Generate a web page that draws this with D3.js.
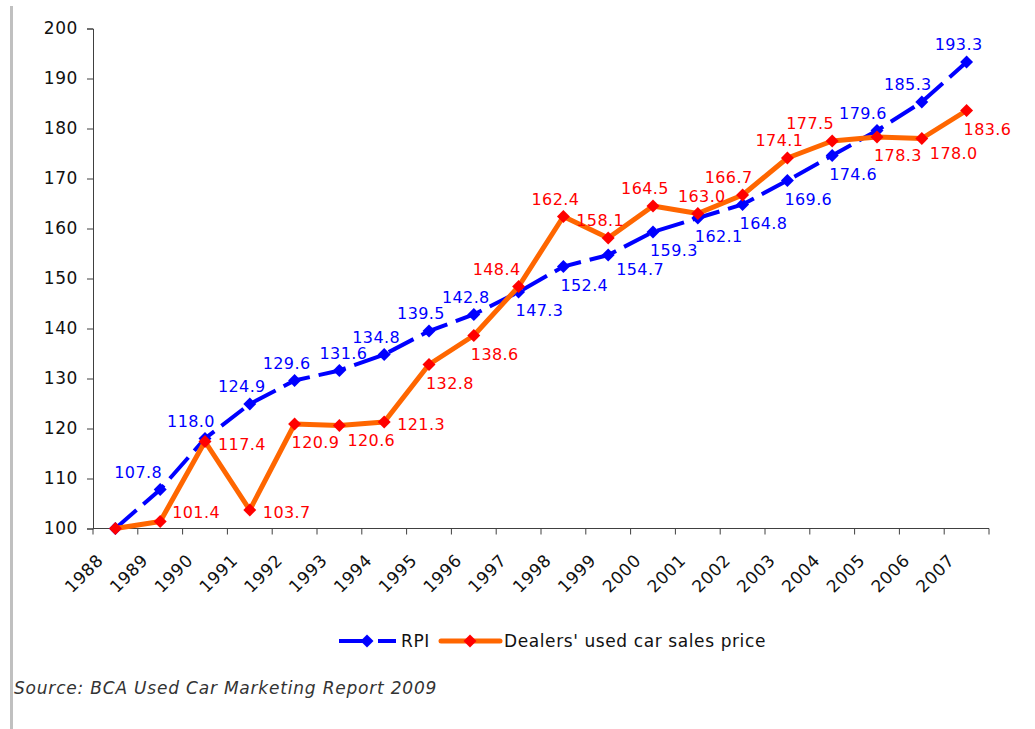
<!DOCTYPE html>
<html>
<head>
<meta charset="utf-8">
<script src="https://cdn.jsdelivr.net/npm/d3@7"></script>
<style>
  html, body { margin: 0; padding: 0; background: #fff; }
  svg { display: block; font-family: "DejaVu Sans", Verdana, sans-serif; }
</style>
</head>
<body>
<svg id="chart" width="1035" height="729"></svg>
<script>
// Years on the category axis
const years = ["1988","1989","1990","1991","1992","1993","1994","1995","1996","1997",
               "1998","1999","2000","2001","2002","2003","2004","2005","2006","2007"];
// Retail price index (1988 = 100)
const rpi = [100, 107.8, 118.0, 124.9, 129.6, 131.6, 134.8, 139.5, 142.8, 147.3,
             152.4, 154.7, 159.3, 162.1, 164.8, 169.6, 174.6, 179.6, 185.3, 193.3];
// Dealers' used car sales price index (1988 = 100)
const dealers = [100, 101.4, 117.4, 103.7, 120.9, 120.6, 121.3, 132.8, 138.6, 148.4,
                 162.4, 158.1, 164.5, 163.0, 166.7, 174.1, 177.5, 178.3, 178.0, 183.6];
const yTicks = [100, 110, 120, 130, 140, 150, 160, 170, 180, 190, 200];
const seriesNames = ["RPI", "Dealers' used car sales price"];
const sourceNote = "Source: BCA Used Car Marketing Report 2009";

const FS = 17, LS = 0.6;       // axis / legend text
const LFS = 16, LLS = 0.4;     // data label text
const svg = d3.select("#chart");

const x = d3.scaleBand().domain(years).range([93, 989]);
const y = d3.scaleLinear().domain([100, 200]).range([528.5, 28.5]);
const cx = d => x(d) + x.bandwidth() / 2;

// page border on the left
svg.append("rect").attr("x", 10).attr("y", 6).attr("width", 3).attr("height", 723).attr("fill", "#c0c0c0");

// y axis
const yAxis = svg.append("g").attr("transform", "translate(93,0)")
  .call(d3.axisLeft(y).tickValues(yTicks).tickSize(6).tickPadding(9).tickFormat(d3.format("d")));
yAxis.select(".domain").attr("stroke", "#404040");
yAxis.selectAll(".tick line").attr("stroke", "#404040");
yAxis.selectAll(".tick text").attr("font-size", FS).attr("letter-spacing", LS)
  .attr("fill", "#111").attr("font-family", "DejaVu Sans");

// x axis: ticks on band boundaries, rotated labels at band centres
const xg = svg.append("g").attr("transform", "translate(0,528.5)");
xg.append("line").attr("x1", 93).attr("x2", 989).attr("stroke", "#404040");
const bounds = years.map(d => x(d)).concat([x.range()[1]]);
xg.selectAll("line.tk").data(bounds).join("line").attr("class", "tk")
  .attr("x1", d => d).attr("x2", d => d).attr("y1", 0).attr("y2", 6).attr("stroke", "#404040");
xg.selectAll("text").data(years).join("text")
  .attr("text-anchor", "end")
  .attr("font-size", FS).attr("letter-spacing", LS).attr("fill", "#111")
  .attr("transform", d => `translate(${cx(d) - 11},${33}) rotate(-45)`)
  .text(d => d);

const line = d3.line().x((d, i) => cx(years[i])).y(d => y(d));
const marker = d3.symbol().type(d3.symbolSquare).size(84);

// RPI series
svg.append("path").datum(rpi).attr("d", line).attr("fill", "none")
  .attr("stroke", "#0000ff").attr("stroke-width", 4).attr("stroke-dasharray", "28,9");
svg.append("g").selectAll("path").data(rpi).join("path")
  .attr("d", marker)
  .attr("transform", (d, i) => `translate(${cx(years[i])},${y(d)}) rotate(45)`)
  .attr("fill", "#0000ff");

// dealers' series
svg.append("path").datum(dealers).attr("d", line).attr("fill", "none")
  .attr("stroke", "#ff6600").attr("stroke-width", 5).attr("stroke-linejoin", "round");
svg.append("g").selectAll("path").data(dealers).join("path")
  .attr("d", marker)
  .attr("transform", (d, i) => `translate(${cx(years[i])},${y(d)}) rotate(45)`)
  .attr("fill", "#ff0000");

// ---- value labels with simple collision avoidance ----
// obstacles: points sampled along both polylines
const obstacles = [];
[rpi, dealers].forEach(vals => {
  for (let i = 0; i < vals.length - 1; i++) {
    const x0 = cx(years[i]), y0 = y(vals[i]), x1 = cx(years[i + 1]), y1 = y(vals[i + 1]);
    const n = Math.ceil(Math.hypot(x1 - x0, y1 - y0) / 1.5);
    for (let k = 0; k <= n; k++) obstacles.push([x0 + (x1 - x0) * k / n, y0 + (y1 - y0) * k / n]);
  }
});
const placed = [];
const gap = 1;
const overlaps = (a, b) => a.x0 < b.x1 + gap && b.x0 < a.x1 + gap && a.y0 < b.y1 && b.y0 < a.y1;
function conflicts(box) {
  let c = 0;
  if (box.y1 > 526 || box.x1 > 1033) c += 100;
  const pad = 2;
  for (const [px, py] of obstacles)
    if (px > box.x0 - pad && px < box.x1 + pad && py > box.y0 - pad && py < box.y1 + pad) c++;
  for (const p of placed) if (overlaps(p, box)) c += 50;
  return c;
}
// candidate offsets (label centre y relative to the point)
const lowerCands = [
  { a: "start", dx: -3, dy: 18 }, { a: "start", dx: 8, dy: 14 },
  { a: "start", dx: 13, dy: 2 }, { a: "start", dx: 12, dy: -10 }];
const upperCands = [
  { a: "middle", dx: -8, dy: -18 }, { a: "middle", dx: -4, dy: -18 },
  { a: "middle", dx: 4, dy: -18 }, { a: "middle", dx: -14, dy: -18 },
  { a: "middle", dx: -22, dy: -18 }];

function labels(values, other, color) {
  const g = svg.append("g");
  values.forEach((v, i) => {
    if (v === other[i]) return;
    const px = cx(years[i]), py = y(v);
    const t = g.append("text")
      .attr("font-size", LFS).attr("letter-spacing", LLS).attr("fill", color)
      .text(v.toFixed(1));
    const w = t.node().getComputedTextLength();
    const h = 12;
    const cands = v > other[i] ? upperCands : lowerCands;
    let best = null;
    for (const c of cands) {
      const left = c.a === "middle" ? px + c.dx - w / 2 : px + c.dx;
      const box = { x0: left, x1: left + w, y0: py + c.dy - h / 2, y1: py + c.dy + h / 2 };
      const score = conflicts(box);
      if (!best || score < best.score) best = { c, box, score };
      if (score === 0) break;
    }
    placed.push(best.box);
    t.attr("x", best.box.x0).attr("y", best.box.y1);
  });
}
labels(rpi, dealers, "#0000ff");
labels(dealers, rpi, "#ff0000");

// legend
const lg = svg.append("g").attr("transform", "translate(0,641)");
lg.append("line").attr("x1", 339).attr("x2", 396).attr("stroke", "#0000ff")
  .attr("stroke-width", 4).attr("stroke-dasharray", "30,9");
lg.append("path").attr("d", marker)
  .attr("transform", "translate(367,0) rotate(45)").attr("fill", "#0000ff");
lg.append("text").attr("x", 401).attr("y", 6).attr("font-size", FS).attr("letter-spacing", LS)
  .attr("fill", "#111").text(seriesNames[0]);
lg.append("line").attr("x1", 441).attr("x2", 500).attr("stroke", "#ff6600")
  .attr("stroke-width", 5).attr("stroke-linecap", "round");
lg.append("path").attr("d", marker)
  .attr("transform", "translate(470,0) rotate(45)").attr("fill", "#ff0000");
lg.append("text").attr("x", 504).attr("y", 6).attr("font-size", FS).attr("letter-spacing", LS)
  .attr("fill", "#111").text(seriesNames[1]);

// source note
svg.append("text").attr("x", 14).attr("y", 694).attr("font-size", FS).attr("letter-spacing", 0.8)
  .attr("font-style", "italic").attr("fill", "#333").text(sourceNote);
</script>
</body>
</html>
